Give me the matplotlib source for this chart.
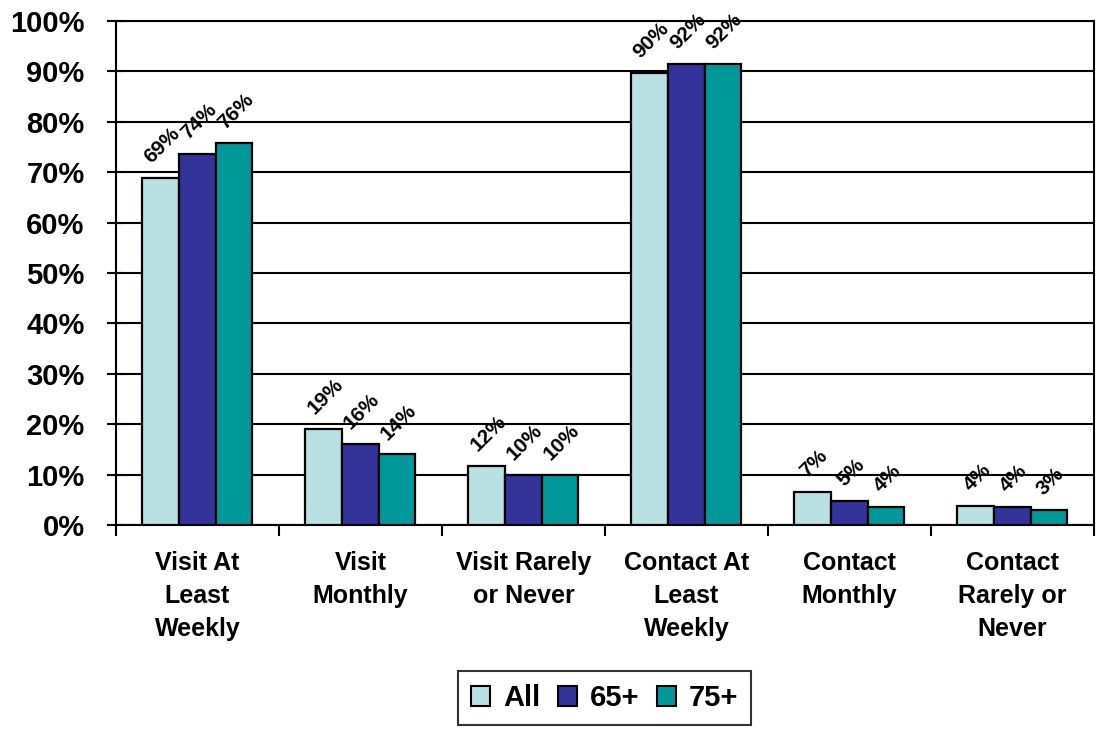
import matplotlib
matplotlib.use("Agg")
import matplotlib.pyplot as plt
import numpy as np
from matplotlib.patches import Patch

plt.rcParams['font.family'] = ['Liberation Sans', 'DejaVu Sans']
plt.rcParams['font.weight'] = 'bold'

categories = ["Visit At\nLeast\nWeekly", "Visit\nMonthly", "Visit Rarely\nor Never",
              "Contact At\nLeast\nWeekly", "Contact\nMonthly", "Contact\nRarely or\nNever"]
series_names = ["All", "65+", "75+"]
all_vals = [68.9, 19.0, 11.7, 89.6, 6.6, 3.8]
age65_vals = [73.7, 16.1, 9.9, 91.5, 4.8, 3.5]
age75_vals = [75.7, 14.0, 9.9, 91.5, 3.5, 3.0]
y_ticks = [0, 10, 20, 30, 40, 50, 60, 70, 80, 90, 100]

colors = ["#B9E0E3", "#333399", "#009999"]

fig = plt.figure(figsize=(10.96, 7.29), dpi=100)
ax = fig.add_axes([0.1058, 0.2798, 0.8922, 0.6914])

x = np.arange(len(categories))
bar_w = 0.225
series = [all_vals, age65_vals, age75_vals]
for i, (vals, name, col) in enumerate(zip(series, series_names, colors)):
    pos = x + (i - 1) * bar_w
    bars = ax.bar(pos, vals, width=bar_w, color=col, edgecolor="black",
                  linewidth=1.6, label=name, zorder=3)
    for b, v in zip(bars, vals):
        ax.annotate(f"{v:.0f}%", (b.get_x() + b.get_width() / 2, v),
                    xytext=(1, 8), textcoords="offset points",
                    ha="center", va="bottom", rotation=45,
                    fontsize=15, fontweight="bold", zorder=4,
                    annotation_clip=False)

ax.set_xlim(-0.5, len(categories) - 0.5)
ax.set_ylim(0, 100)
ax.set_yticks(y_ticks)
ax.set_yticklabels([f"{t}%" for t in y_ticks], fontsize=21, fontweight="bold")
ax.yaxis.grid(True, color="black", linewidth=1.5, zorder=0)
ax.set_axisbelow(True)

ax.set_xticks(x)
ax.set_xticklabels(categories, fontsize=18, fontweight="bold", linespacing=1.45)
ax.set_xticks(np.arange(len(categories) + 1) - 0.5, minor=True)
ax.tick_params(axis="x", which="major", length=0, pad=19)
ax.tick_params(axis="x", which="minor", length=8, width=1.5, direction="out")
ax.tick_params(axis="y", length=13, width=1.5, direction="inout", pad=16)

for s in ax.spines.values():
    s.set_linewidth(1.5)
    s.set_color("black")

handles = [Patch(facecolor=c, edgecolor="black", linewidth=1.5) for c in colors]
leg = fig.legend(handles, series_names, loc="center", bbox_to_anchor=(0.5516, 0.0425),
                 ncol=3, frameon=True, fancybox=False, edgecolor="black",
                 prop={"size": 21, "weight": "bold"}, handlelength=0.65,
                 handleheight=0.65, handletextpad=0.45, columnspacing=0.6,
                 borderpad=0.45)
leg.get_frame().set_linewidth(1.5)

fig.savefig("out.png", dpi=100)
